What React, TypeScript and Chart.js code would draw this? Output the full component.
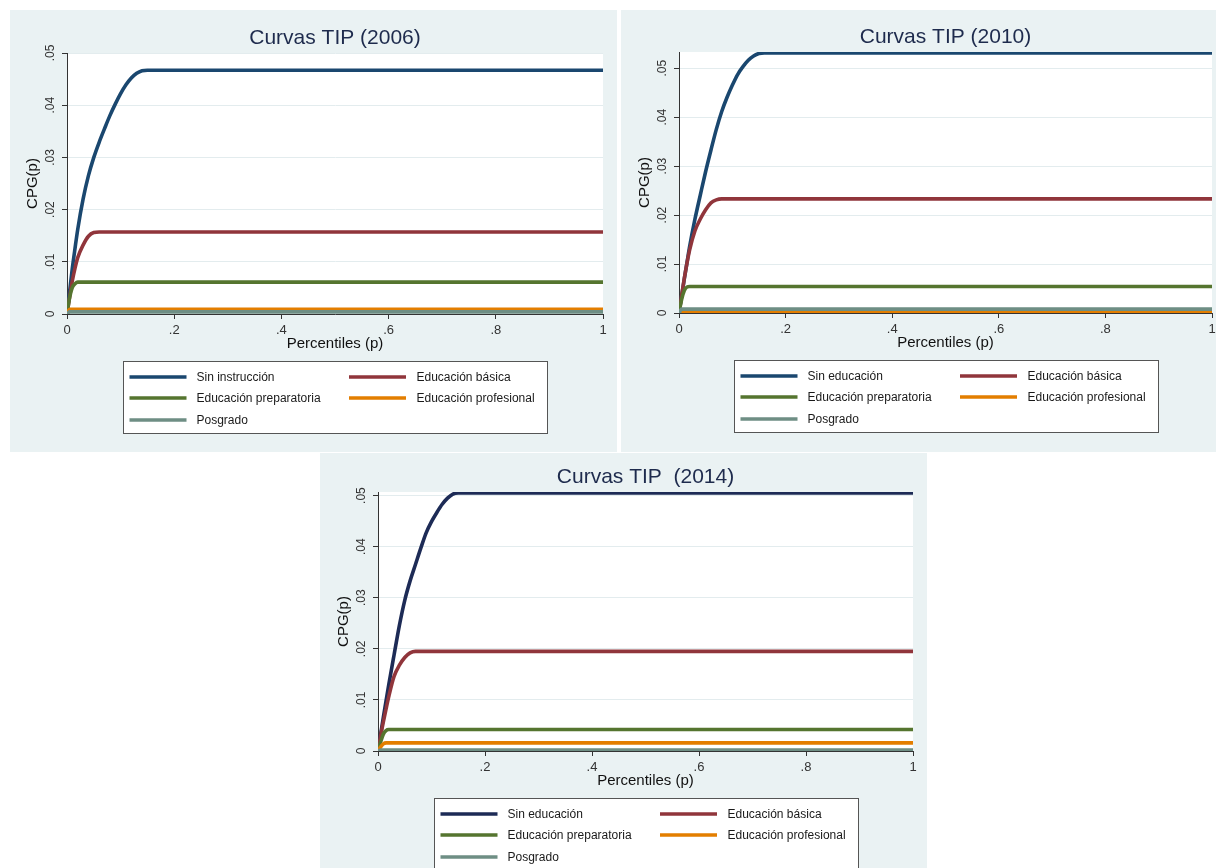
import React, { useEffect, useRef } from "react";
import { Chart, registerables } from "chart.js";

Chart.register(...registerables);

// ---------- DATA ----------
const percentiles = [0, 0.005, 0.01, 0.015, 0.02, 0.03, 0.04, 0.05, 0.06, 0.07, 0.08, 0.09, 0.1, 0.11, 0.12, 0.13, 0.14, 0.15, 0.16, 0.2, 0.4, 0.6, 0.8, 1];

const xTickValues = [0, 0.2, 0.4, 0.6, 0.8, 1];
const xTickLabels = ["0", ".2", ".4", ".6", ".8", "1"];
const yTickValues = [0, 0.01, 0.02, 0.03, 0.04, 0.05];
const yTickLabels = ["0", ".01", ".02", ".03", ".04", ".05"];

const labels2006 = ["Sin instrucción", "Educación básica", "Educación preparatoria", "Educación profesional", "Posgrado"];
const labelsLater = ["Sin educación", "Educación básica", "Educación preparatoria", "Educación profesional", "Posgrado"];

// 2006
const sin2006 = [0, 0.0044, 0.0088, 0.0126, 0.0162, 0.022, 0.0265, 0.03, 0.0329, 0.0355, 0.038, 0.0402, 0.0422, 0.0439, 0.0452, 0.0461, 0.0466, 0.0467, 0.0467, 0.0467, 0.0467, 0.0467, 0.0467, 0.0467];
const basica2006 = [0, 0.0033, 0.0064, 0.0088, 0.0108, 0.0132, 0.0149, 0.0156, 0.0157, 0.0157, 0.0157, 0.0157, 0.0157, 0.0157, 0.0157, 0.0157, 0.0157, 0.0157, 0.0157, 0.0157, 0.0157, 0.0157, 0.0157, 0.0157];
const prepa2006 = [0, 0.0032, 0.0051, 0.0058, 0.0061, 0.0061, 0.0061, 0.0061, 0.0061, 0.0061, 0.0061, 0.0061, 0.0061, 0.0061, 0.0061, 0.0061, 0.0061, 0.0061, 0.0061, 0.0061, 0.0061, 0.0061, 0.0061, 0.0061];
const prof2006 = [0, 0.0009, 0.0009, 0.0009, 0.0009, 0.0009, 0.0009, 0.0009, 0.0009, 0.0009, 0.0009, 0.0009, 0.0009, 0.0009, 0.0009, 0.0009, 0.0009, 0.0009, 0.0009, 0.0009, 0.0009, 0.0009, 0.0009, 0.0009];
const posgrado2006 = [0, 0.0004, 0.0004, 0.0004, 0.0004, 0.0004, 0.0004, 0.0004, 0.0004, 0.0004, 0.0004, 0.0004, 0.0004, 0.0004, 0.0004, 0.0004, 0.0004, 0.0004, 0.0004, 0.0004, 0.0004, 0.0004, 0.0004, 0.0004];

// 2010
const sin2010 = [0, 0.0035, 0.007, 0.0103, 0.0136, 0.0192, 0.0241, 0.0289, 0.0333, 0.0375, 0.0411, 0.044, 0.0465, 0.0487, 0.0503, 0.0516, 0.0525, 0.053, 0.0531, 0.0531, 0.0531, 0.0531, 0.0531, 0.0531];
const basica2010 = [0, 0.0036, 0.0071, 0.0102, 0.0129, 0.0168, 0.0192, 0.0211, 0.0225, 0.0231, 0.0233, 0.0233, 0.0233, 0.0233, 0.0233, 0.0233, 0.0233, 0.0233, 0.0233, 0.0233, 0.0233, 0.0233, 0.0233, 0.0233];
const prepa2010 = [0, 0.0028, 0.0046, 0.0053, 0.0054, 0.0054, 0.0054, 0.0054, 0.0054, 0.0054, 0.0054, 0.0054, 0.0054, 0.0054, 0.0054, 0.0054, 0.0054, 0.0054, 0.0054, 0.0054, 0.0054, 0.0054, 0.0054, 0.0054];
const prof2010 = [0, 0.0003, 0.0003, 0.0003, 0.0003, 0.0003, 0.0003, 0.0003, 0.0003, 0.0003, 0.0003, 0.0003, 0.0003, 0.0003, 0.0003, 0.0003, 0.0003, 0.0003, 0.0003, 0.0003, 0.0003, 0.0003, 0.0003, 0.0003];
const posgrado2010 = [0, 0.0008, 0.0008, 0.0008, 0.0008, 0.0008, 0.0008, 0.0008, 0.0008, 0.0008, 0.0008, 0.0008, 0.0008, 0.0008, 0.0008, 0.0008, 0.0008, 0.0008, 0.0008, 0.0008, 0.0008, 0.0008, 0.0008, 0.0008];

// 2014
const sin2014 = [0, 0.0033, 0.0066, 0.0098, 0.0129, 0.0188, 0.0246, 0.0295, 0.0333, 0.0365, 0.0397, 0.0427, 0.0449, 0.0467, 0.0483, 0.0495, 0.0503, 0.0505, 0.0505, 0.0505, 0.0505, 0.0505, 0.0505, 0.0505];
const basica2014 = [0, 0.003, 0.0057, 0.0082, 0.0106, 0.0146, 0.0168, 0.0183, 0.0192, 0.0195, 0.0195, 0.0195, 0.0195, 0.0195, 0.0195, 0.0195, 0.0195, 0.0195, 0.0195, 0.0195, 0.0195, 0.0195, 0.0195, 0.0195];
const prepa2014 = [0, 0.0018, 0.0033, 0.004, 0.0042, 0.0042, 0.0042, 0.0042, 0.0042, 0.0042, 0.0042, 0.0042, 0.0042, 0.0042, 0.0042, 0.0042, 0.0042, 0.0042, 0.0042, 0.0042, 0.0042, 0.0042, 0.0042, 0.0042];
const prof2014 = [0, 0.0008, 0.0014, 0.0016, 0.0016, 0.0016, 0.0016, 0.0016, 0.0016, 0.0016, 0.0016, 0.0016, 0.0016, 0.0016, 0.0016, 0.0016, 0.0016, 0.0016, 0.0016, 0.0016, 0.0016, 0.0016, 0.0016, 0.0016];
const posgrado2014 = [0, 0.0002, 0.0002, 0.0002, 0.0002, 0.0002, 0.0002, 0.0002, 0.0002, 0.0002, 0.0002, 0.0002, 0.0002, 0.0002, 0.0002, 0.0002, 0.0002, 0.0002, 0.0002, 0.0002, 0.0002, 0.0002, 0.0002, 0.0002];

const yMax2006 = 0.05;
const yMax2010 = 0.0533;
const yMax2014 = 0.0507;

// ---------- STYLE ----------
const FONT = '"Liberation Sans", Arial, Helvetica, sans-serif';
const BG = "#EAF2F3";
const GRID = "#E3ECEE";
const AXIS = "#333333";
const TITLE_COLOR = "#1E2B4D";
const colorsA = ["#1A476F", "#90353B", "#55752F", "#E37E00", "#6E8E84"];
const colorsB = ["#1D2B56", "#90353B", "#55752F", "#E37E00", "#6E8E84"];

type Area = { left: number; right: number; top: number; bottom: number };
type Panel = {
  key: string;
  title: string;
  labels: string[];
  series: number[][];
  colors: string[];
  yMax: number;
  left: number;
  top: number;
  width: number;
  height: number;
  area: Area;
};

const panels: Panel[] = [
  {
    key: "p2006",
    title: "Curvas TIP (2006)",
    labels: labels2006,
    series: [sin2006, basica2006, prepa2006, prof2006, posgrado2006],
    colors: colorsA,
    yMax: yMax2006,
    left: 10, top: 10, width: 607, height: 442,
    area: { left: 57, right: 593, top: 43, bottom: 304 },
  },
  {
    key: "p2010",
    title: "Curvas TIP (2010)",
    labels: labelsLater,
    series: [sin2010, basica2010, prepa2010, prof2010, posgrado2010],
    colors: colorsA,
    yMax: yMax2010,
    left: 621, top: 10, width: 605, height: 442,
    area: { left: 58, right: 591, top: 42, bottom: 303 },
  },
  {
    key: "p2014",
    title: "Curvas TIP  (2014)",
    labels: labelsLater,
    series: [sin2014, basica2014, prepa2014, prof2014, posgrado2014],
    colors: colorsB,
    yMax: yMax2014,
    left: 320, top: 453, width: 607, height: 415,
    area: { left: 58, right: 593, top: 39, bottom: 298 },
  },
];

function labelFor(values: number[], labels: string[], v: number) {
  const i = values.findIndex((t) => Math.abs(t - v) < 1e-9);
  return i >= 0 ? labels[i] : "";
}

function PanelChart({ panel }: { panel: Panel }) {
  const ref = useRef<HTMLCanvasElement | null>(null);

  useEffect(() => {
    const canvas = ref.current;
    if (!canvas) return;
    const { area, width, height } = panel;
    const xAxisHeight = 40;

    const datasets = panel.series.map((vals, i) => ({
      label: panel.labels[i],
      data: percentiles.map((p, j) => ({ x: p, y: vals[j] })),
      borderColor: panel.colors[i],
      backgroundColor: panel.colors[i],
      borderWidth: 3.6,
      pointRadius: 0,
      pointHoverRadius: 0,
      fill: false,
      cubicInterpolationMode: "monotone" as const,
      borderJoinStyle: "round" as const,
      order: panel.series.length - i,
    }));

    const decor = {
      id: "panelDecor",
      beforeDraw(chart: any) {
        const { ctx, chartArea: a } = chart;
        ctx.save();
        ctx.fillStyle = BG;
        ctx.fillRect(0, 0, chart.width, chart.height);
        ctx.fillStyle = "#ffffff";
        ctx.fillRect(a.left, a.top, a.right - a.left, a.bottom - a.top);
        ctx.restore();
      },
      afterDraw(chart: any) {
        const { ctx, chartArea: a } = chart;
        const cx = (a.left + a.right) / 2;
        ctx.save();
        // title
        ctx.font = `21px ${FONT}`;
        ctx.fillStyle = TITLE_COLOR;
        ctx.textAlign = "center";
        ctx.textBaseline = "middle";
        ctx.fillText(panel.title, cx, a.top - 14.5);
        // legend
        const bw = 424;
        const bh = 72;
        const bx = Math.round(cx - bw / 2) + 0.5;
        const by = Math.round(a.bottom + 47) + 0.5;
        ctx.fillStyle = "#ffffff";
        ctx.fillRect(bx, by, bw, bh);
        ctx.strokeStyle = "#555555";
        ctx.lineWidth = 1;
        ctx.strokeRect(bx, by, bw, bh);
        ctx.font = `12px ${FONT}`;
        ctx.textAlign = "left";
        ctx.textBaseline = "middle";
        panel.labels.forEach((lab, i) => {
          const col = i % 2;
          const row = Math.floor(i / 2);
          const sx = bx + 6 + col * 219.5;
          const sy = Math.round(by + 15.5 + row * 21.3);
          ctx.strokeStyle = panel.colors[i];
          ctx.lineWidth = 3.5;
          ctx.beginPath();
          ctx.moveTo(sx, sy);
          ctx.lineTo(sx + 57, sy);
          ctx.stroke();
          ctx.fillStyle = "#1a1a1a";
          ctx.fillText(lab, bx + 73 + col * 220, sy + 0.5);
        });
        ctx.restore();
      },
    };

    const chart = new Chart(canvas, {
      type: "line",
      data: { datasets },
      options: {
        animation: false,
        responsive: false,
        maintainAspectRatio: false,
        events: [],
        layout: {
          padding: {
            left: 0,
            top: area.top,
            right: width - area.right,
            bottom: height - area.bottom - xAxisHeight,
          },
        },
        plugins: {
          legend: { display: false },
          tooltip: { enabled: false },
          title: { display: false },
        },
        scales: {
          x: {
            type: "linear",
            min: 0,
            max: 1,
            afterBuildTicks: (s: any) => {
              s.ticks = xTickValues.map((v) => ({ value: v }));
            },
            afterFit: (s: any) => {
              s.height = xAxisHeight;
            },
            ticks: {
              autoSkip: false,
              maxRotation: 0,
              minRotation: 0,
              padding: 4,
              color: AXIS,
              font: { family: FONT, size: 13 },
              callback: (v: any) => labelFor(xTickValues, xTickLabels, Number(v)),
            },
            grid: {
              drawOnChartArea: false,
              drawTicks: true,
              tickLength: 5,
              tickColor: AXIS,
              color: AXIS,
            },
            border: { display: true, color: AXIS, width: 1 },
            title: {
              display: true,
              text: "Percentiles (p)",
              color: "#111111",
              font: { family: FONT, size: 15 },
              padding: { top: 0, bottom: 1 },
            },
          },
          y: {
            type: "linear",
            min: 0,
            max: panel.yMax,
            afterBuildTicks: (s: any) => {
              s.ticks = yTickValues.map((v) => ({ value: v }));
            },
            afterFit: (s: any) => {
              s.width = area.left;
            },
            ticks: {
              autoSkip: false,
              minRotation: 90,
              maxRotation: 90,
              crossAlign: "center",
              padding: 3,
              color: AXIS,
              font: { family: FONT, size: 12 },
              callback: (v: any) => labelFor(yTickValues, yTickLabels, Number(v)),
            },
            grid: {
              drawTicks: true,
              tickLength: 5,
              tickColor: AXIS,
              lineWidth: 1,
              color: (c: any) => (c.tick && Math.abs(c.tick.value) < 1e-9 ? "rgba(0,0,0,0)" : GRID),
            },
            border: { display: true, color: AXIS, width: 1 },
            title: {
              display: true,
              text: "CPG(p)",
              color: "#111111",
              font: { family: FONT, size: 15 },
              padding: { top: area.left - 43, bottom: 0 },
            },
          },
        },
      } as any,
      plugins: [decor],
    });

    return () => {
      chart.destroy();
    };
  }, [panel]);

  return (
    <canvas
      ref={ref}
      width={panel.width}
      height={panel.height}
      style={{
        position: "absolute",
        left: panel.left,
        top: panel.top,
        width: panel.width,
        height: panel.height,
        display: "block",
      }}
    />
  );
}

export default function App() {
  return (
    <div
      style={{
        position: "absolute",
        left: 0,
        top: 0,
        width: 1216,
        height: 868,
        background: "#ffffff",
        overflow: "hidden",
      }}
    >
      {panels.map((p) => (
        <PanelChart key={p.key} panel={p} />
      ))}
    </div>
  );
}
